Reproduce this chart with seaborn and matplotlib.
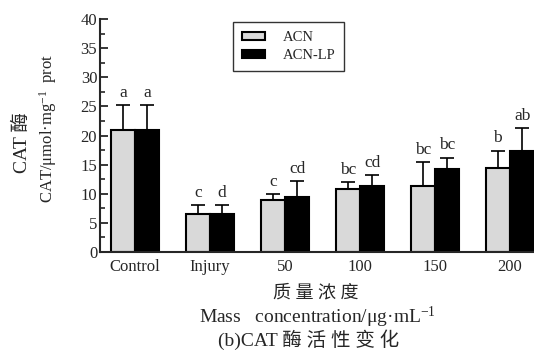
import matplotlib
matplotlib.use("Agg")
import matplotlib.pyplot as plt
import seaborn as sns
import pandas as pd
import numpy as np
from matplotlib.ticker import MultipleLocator

categories = ["Control", "Injury", "50", "100", "150", "200"]
series_names = ["ACN", "ACN-LP"]
acn_values = [20.9, 6.5, 8.9, 10.75, 11.4, 14.4]
acn_errors = [4.3, 1.5, 1.0, 1.25, 4.0, 3.0]
acnlp_values = [20.9, 6.5, 9.5, 11.3, 14.2, 17.4]
acnlp_errors = [4.3, 1.5, 2.7, 1.9, 2.0, 3.9]
acn_letters = ["a", "c", "c", "bc", "bc", "b"]
acnlp_letters = ["a", "d", "cd", "cd", "bc", "ab"]
y_ticks = [0, 5, 10, 15, 20, 25, 30, 35, 40]

sns.set_style("ticks")
plt.rcParams["font.family"] = ["Liberation Serif", "Noto Sans CJK SC"]
plt.rcParams["mathtext.fontset"] = "custom"
plt.rcParams["mathtext.rm"] = "Liberation Serif"
plt.rcParams["mathtext.it"] = "Liberation Serif:italic"
FAM = ["Liberation Serif", "Noto Sans CJK SC"]

df = pd.DataFrame({
    "cat": categories * 2,
    "group": [series_names[0]] * 6 + [series_names[1]] * 6,
    "value": acn_values + acnlp_values,
})

fig = plt.figure(figsize=(5.34, 3.59), dpi=100)
ax = fig.add_axes([100 / 534, (359 - 252) / 359, 434 / 534, 233 / 359])

sns.barplot(data=df, x="cat", y="value", hue="group", order=categories,
            hue_order=series_names, palette=["#d9d9d9", "#000000"],
            width=0.65, errorbar=None, edgecolor="black", linewidth=1.5,
            ax=ax, saturation=1)

bar_containers = list(ax.containers)
errs = [acn_errors, acnlp_errors]
letters = [acn_letters, acnlp_letters]
for gi, cont in enumerate(bar_containers):
    for bi, bar in enumerate(cont.patches):
        xc = bar.get_x() + bar.get_width() / 2
        h = bar.get_height()
        e = errs[gi][bi]
        ax.errorbar([xc], [h], yerr=[[0], [e]], fmt="none", ecolor="black",
                    elinewidth=1.2, capsize=5, capthick=1.2, zorder=1)
        ax.annotate(letters[gi][bi], (xc, h + e), xytext=(0, 3),
                    textcoords="offset points", ha="center", va="bottom",
                    fontsize=12.5, family=FAM)

ax.set_ylim(0, 40)
ax.set_xlim(-0.467, 5.32)
ax.set_yticks(y_ticks)
ax.yaxis.set_minor_locator(MultipleLocator(2.5))
ax.tick_params(axis="y", which="major", direction="in", length=6, width=1.3,
               labelsize=12, pad=2)
ax.tick_params(axis="y", which="minor", direction="in", length=3.5, width=1.2)
ax.tick_params(axis="x", length=0, labelsize=12, pad=5)
for lab in ax.get_xticklabels() + ax.get_yticklabels():
    lab.set_family(FAM)
sns.despine(ax=ax)
ax.spines["left"].set_linewidth(1.5)
ax.spines["bottom"].set_linewidth(1.5)
ax.set_xlabel("")
ax.set_ylabel("")

leg = ax.legend(loc="upper left", bbox_to_anchor=(0.306, 0.985), frameon=True,
                fancybox=False, edgecolor="black", fontsize=10.5,
                handlelength=1.6, handleheight=0.45, borderpad=0.6,
                labelspacing=0.35, handletextpad=1.2, borderaxespad=0)
leg.get_frame().set_linewidth(1.0)
for t in leg.get_texts():
    t.set_family(FAM)

fig.text(22 / 534, 1 - 143 / 359, "CAT 酶", rotation=90, ha="center",
         va="center", fontsize=14, family=FAM)
fig.text(48 / 534, 1 - 128 / 359, r"CAT/μmol·mg$^{-1}$  prot", rotation=90,
         ha="center", va="center", fontsize=12, family=FAM)
fig.text(316 / 534, 1 - 293 / 359, "质 量 浓 度", ha="center", va="center",
         fontsize=13, family=FAM)
fig.text(317 / 534, 1 - 317 / 359, r"Mass   concentration/μg·mL$^{-1}$",
         ha="center", va="center", fontsize=14, family=FAM)
fig.text(309 / 534, 1 - 340 / 359, "(b)CAT 酶 活 性 变 化", ha="center",
         va="center", fontsize=14, family=FAM)

fig.savefig("out.png", dpi=100)
